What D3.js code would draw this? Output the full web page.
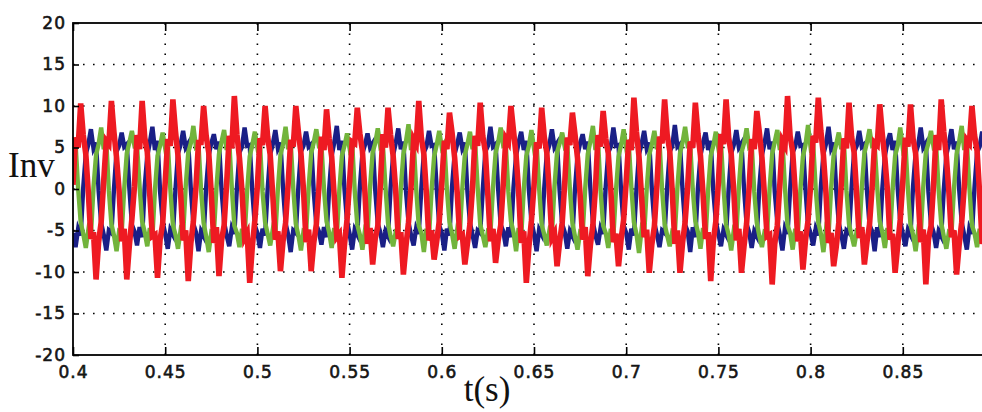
<!DOCTYPE html>
<html><head><meta charset="utf-8">
<script src="https://cdn.jsdelivr.net/npm/d3@7"></script>
<style>html,body{margin:0;padding:0;background:#fff;}svg{display:block;}</style>
</head><body>
<svg id="chart" width="982" height="412"></svg>
<script>
// ---- axis ticks ----
const xTicks = [0.4, 0.45, 0.5, 0.55, 0.6, 0.65, 0.7, 0.75, 0.8, 0.85];
const xTickLabels = ["0.4", "0.45", "0.5", "0.55", "0.6", "0.65", "0.7", "0.75", "0.8", "0.85"];
const yTicks = [-20, -15, -10, -5, 0, 5, 10, 15, 20];
const yTickLabels = ["-20", "-15", "-10", "-5", "0", "5", "10", "15", "20"];
const xDomain = [0.4, 0.9];
const yDomain = [-20, 20];
const xTitle = "t(s)";
const yTitle = "Inv";

// ---- sampled waveforms (12 samples per 60 Hz cycle, starting at t = 0.4 s) ----
const tStart = 0.4;
const sampleStep = 1 / 720;

const phaseRed = [
  0.5, 6.2, 5, 10.3, 6.5, 4.2, -0.5, -6, -5.2, -10.9, -6.4, -4,
  1, 5.8, 5.4, 10.6, 6.8, 3.8, -0.2, -6.3, -4.8, -10.9, -6.8, -3.6,
  0.3, 6.5, 4.8, 10.6, 6.2, 4.5, -0.8, -5.7, -5.5, -10.7, -6.1, -4.2,
  0.8, 6, 5.2, 10.8, 7, 4, -0.4, -6.2, -5, -11.1, -6.6, -3.9,
  0.2, 5.6, 5.6, 10, 6.4, 4.4, -0.6, -6.5, -4.6, -10.5, -6.2, -4.4,
  0.7, 6.4, 4.9, 11.2, 6.6, 3.7, -0.3, -5.9, -5.3, -11.3, -7, -3.8,
  0.4, 6.1, 5.3, 10, 6.3, 4.1, -0.7, -6.1, -5.1, -9.9, -6.3, -4.1,
  0.6, 5.9, 5.1, 10, 6.9, 4.3, -0.1, -6.4, -4.9, -9.9, -6.5, -4.3,
  0.1, 6.3, 4.7, 9.6, 6.1, 3.9, -0.9, -5.8, -5.4, -10.7, -6.7, -3.7,
  0.9, 5.7, 5.5, 9.8, 6.7, 4.6, -0.5, -6.6, -4.7, -9.1, -6, -4.5,
  0.5, 6.6, 5, 9.8, 6.5, 4, -0.2, -6, -5.2, -10.3, -6.9, -4,
  0.3, 6, 5.4, 10.6, 6.2, 4.2, -0.6, -6.2, -5, -8.5, -6.3, -3.9,
  0.8, 5.8, 4.8, 9.2, 6.8, 3.8, -0.4, -5.7, -5.5, -9.1, -6.6, -4.2,
  0.2, 6.4, 5.2, 10.4, 6.4, 4.5, -0.8, -6.3, -4.8, -8.9, -6.2, -4.4,
  0.6, 6.1, 5.6, 10, 7, 4.1, -0.3, -6.5, -5.1, -11.3, -7, -3.8,
  0.4, 5.6, 4.9, 9.8, 6.3, 4.4, -0.5, -5.9, -5.3, -9.3, -6.4, -4.1,
  0.7, 6.2, 5.3, 9.2, 6.6, 3.7, -0.7, -6.1, -4.6, -10.5, -6.8, -4.3,
  0.1, 6.5, 5.1, 9.4, 6.1, 4.3, -0.1, -6.4, -5.4, -9.3, -6.1, -3.7,
  0.9, 5.9, 4.7, 11, 6.9, 3.9, -0.9, -5.8, -4.9, -10.1, -6.7, -4.5,
  0.5, 6.3, 5.5, 10.8, 6.5, 4.6, -0.4, -6.6, -5, -10.1, -6.5, -4,
  0.3, 5.7, 5, 10.4, 6.7, 4, -0.6, -6, -5.2, -11.1, -6.3, -3.9,
  0.8, 6.6, 5.4, 10.8, 6.2, 4.2, -0.2, -6.2, -4.8, -10.1, -6.9, -4.2,
  0.2, 6, 4.8, 9.4, 6.8, 3.8, -0.8, -5.7, -5.5, -11.5, -6.6, -4.4,
  0.6, 5.8, 5.2, 11.2, 6.4, 4.5, -0.3, -6.3, -5.1, -9.7, -6.2, -3.8,
  0.4, 6.4, 5.6, 11, 7, 4.1, -0.5, -6.5, -5.3, -9.3, -7, -4.1,
  0.7, 6.1, 4.9, 10.4, 6.3, 4.4, -0.7, -5.9, -4.6, -9.1, -6.4, -4.3,
  0.1, 5.6, 5.3, 10.2, 6.6, 3.7, -0.1, -6.1, -5.4, -10.1, -6.8, -3.7,
  0.9, 6.2, 5.1, 10.2, 6.1, 4.3, -0.9, -6.4, -4.9, -11.5, -6.1, -4.5,
  0.5, 6.5, 4.7, 10.8, 6.9, 3.9, -0.4, -5.8, -5, -10.3, -6.7, -4,
  0.3, 5.9, 5.5, 10, 6.5, 4.6, -0.6, -6.6, -5.2, -10.5, -6.5, -3.9
];

const phaseBlue = [
  -5.3, -7, -4.8, -5.6, 0.2, 4.2, 5.4, 7.2, 4.9, 5.6, -0.2, -4.1,
  -5.5, -7.4, -5, -5.3, 0, 4.5, 5.2, 6.8, 5.1, 5.4, 0.1, -4.3,
  -5.1, -6.8, -4.6, -5.8, 0.3, 4, 5.6, 7.5, 4.7, 5.8, -0.3, -3.9,
  -5.4, -7.2, -4.9, -5.5, -0.1, 4.3, 5.3, 7, 5, 5.5, 0, -4.2,
  -5.2, -7.5, -5.1, -5.7, 0.2, 4.1, 5.5, 6.6, 4.8, 5.7, -0.1, -4,
  -5.6, -6.9, -4.7, -5.4, 0.1, 4.4, 5.1, 7.4, 5.2, 5.3, -0.2, -4.4,
  -5.3, -7.1, -4.8, -5.6, 0, 4.2, 5.4, 7.1, 4.9, 5.6, 0.1, -4.1,
  -5.5, -7.6, -5, -5.3, 0.3, 4.5, 5.2, 6.9, 5.1, 5.4, -0.3, -4.3,
  -5.1, -6.7, -4.6, -5.8, -0.1, 4, 5.6, 7.6, 4.7, 5.8, 0, -3.9,
  -5.4, -7.3, -4.9, -5.5, 0.2, 4.3, 5.3, 6.7, 5, 5.5, -0.1, -4.2,
  -5.2, -7, -5.1, -5.7, 0.1, 4.1, 5.5, 7.3, 4.8, 5.7, -0.2, -4,
  -5.6, -6.8, -4.7, -5.4, 0, 4.4, 5.1, 7, 5.2, 5.3, 0.1, -4.4,
  -5.3, -7.4, -4.8, -5.6, 0.3, 4.2, 5.4, 6.8, 4.9, 5.6, -0.3, -4.1,
  -5.5, -7.1, -5, -5.3, -0.1, 4.5, 5.2, 7.5, 5.1, 5.4, 0, -4.3,
  -5.1, -6.9, -4.6, -5.8, 0.2, 4, 5.6, 6.9, 4.7, 5.8, -0.1, -3.9,
  -5.4, -7.5, -4.9, -5.5, 0.1, 4.3, 5.3, 7.2, 5, 5.5, -0.2, -4.2,
  -5.2, -7.2, -5.1, -5.7, 0, 4.1, 5.5, 6.6, 4.8, 5.7, 0.1, -4,
  -5.6, -6.7, -4.7, -5.4, 0.3, 4.4, 5.1, 7.4, 5.2, 5.3, -0.3, -4.4,
  -5.3, -7.3, -4.8, -5.6, -0.1, 4.2, 5.4, 7, 4.9, 5.6, 0, -4.1,
  -5.5, -7, -5, -5.3, 0.2, 4.5, 5.2, 7.7, 5.1, 5.4, -0.1, -4.3,
  -5.1, -7.6, -4.6, -5.8, 0.1, 4, 5.6, 6.8, 4.7, 5.8, -0.2, -3.9,
  -5.4, -6.9, -4.9, -5.5, 0, 4.3, 5.3, 7.1, 5, 5.5, 0.1, -4.2,
  -5.2, -7.1, -5.1, -5.7, 0.3, 4.1, 5.5, 7.3, 4.8, 5.7, -0.3, -4,
  -5.6, -7.4, -4.7, -5.4, -0.1, 4.4, 5.1, 6.9, 5.2, 5.3, 0, -4.4,
  -5.3, -6.8, -4.8, -5.6, 0.2, 4.2, 5.4, 7.5, 4.9, 5.6, -0.1, -4.1,
  -5.5, -7.2, -5, -5.3, 0.1, 4.5, 5.2, 7, 5.1, 5.4, -0.2, -4.3,
  -5.1, -7.5, -4.6, -5.8, 0, 4, 5.6, 6.7, 4.7, 5.8, 0.1, -3.9,
  -5.4, -6.9, -4.9, -5.5, 0.3, 4.3, 5.3, 7.4, 5, 5.5, -0.3, -4.2,
  -5.2, -7.1, -5.1, -5.7, -0.1, 4.1, 5.5, 7.2, 4.8, 5.7, 0, -4,
  -5.6, -7.3, -4.7, -5.4, 0.2, 4.4, 5.1, 6.9, 5.2, 5.3, -0.1, -4.4
];

const phaseGreen = [
  5, 5.5, 0.1, -4, -5.4, -7.1, -4.9, -5.6, 0.2, 4.1, 5.4, 7.4,
  4.8, 5.7, -0.2, -4.2, -5.6, -7.5, -5.1, -5.3, 0, 4.3, 5.6, 7,
  5.2, 5.3, 0.3, -3.9, -5.2, -6.9, -4.7, -5.8, -0.1, 4, 5.2, 6.8,
  4.9, 5.6, 0, -4.3, -5.5, -7.2, -5, -5.5, 0.3, 4.4, 5.5, 7.6,
  5.1, 5.4, -0.1, -4.1, -5.7, -7.6, -5.2, -5.4, 0.1, 4.2, 5.7, 7.1,
  4.7, 5.8, 0.2, -4.4, -5.3, -7, -4.8, -5.7, -0.2, 3.9, 5.3, 6.9,
  5, 5.5, -0.3, -4, -5.4, -6.8, -4.9, -5.6, 0, 4.1, 5.4, 7.5,
  4.8, 5.7, 0.1, -4.2, -5.6, -7.4, -5.1, -5.3, 0.2, 4.3, 5.6, 7.2,
  5.2, 5.3, 0, -3.9, -5.2, -7.1, -4.7, -5.8, -0.1, 4, 5.2, 6.7,
  4.9, 5.6, -0.2, -4.3, -5.5, -7.3, -5, -5.5, 0.3, 4.4, 5.5, 7.3,
  5.1, 5.4, 0.3, -4.1, -5.7, -6.9, -5.2, -5.4, 0.1, 4.2, 5.7, 7.8,
  4.7, 5.8, 0, -4.4, -5.3, -7.6, -4.8, -5.7, -0.2, 3.9, 5.3, 7,
  5, 5.5, -0.1, -4, -5.4, -7.2, -4.9, -5.6, 0, 4.1, 5.4, 6.9,
  4.8, 5.7, 0.2, -4.2, -5.6, -7, -5.1, -5.3, 0.2, 4.3, 5.6, 7.4,
  5.2, 5.3, -0.3, -3.9, -5.2, -7.5, -4.7, -5.8, -0.1, 4, 5.2, 7.1,
  4.9, 5.6, 0.1, -4.3, -5.5, -6.8, -5, -5.5, 0.3, 4.4, 5.5, 6.8,
  5.1, 5.4, 0, -4.1, -5.7, -7.3, -5.2, -5.4, 0.1, 4.2, 5.7, 7.6,
  4.7, 5.8, -0.2, -4.4, -5.3, -7.1, -4.8, -5.7, -0.2, 3.9, 5.3, 7.2,
  5, 5.5, 0.3, -4, -5.4, -7.7, -4.9, -5.6, 0, 4.1, 5.4, 7,
  4.8, 5.7, 0, -4.2, -5.6, -6.9, -5.1, -5.3, 0.2, 4.3, 5.6, 7.5,
  5.2, 5.3, -0.1, -3.9, -5.2, -7.2, -4.7, -5.8, -0.1, 4, 5.2, 6.9,
  4.9, 5.6, 0.2, -4.3, -5.5, -7.4, -5, -5.5, 0.3, 4.4, 5.5, 7.3,
  5.1, 5.4, -0.3, -4.1, -5.7, -7, -5.2, -5.4, 0.1, 4.2, 5.7, 7.1,
  4.7, 5.8, 0.1, -4.4, -5.3, -7.3, -4.8, -5.7, -0.2, 3.9, 5.3, 7.7,
  5, 5.5, 0, -4, -5.4, -7.6, -4.9, -5.6, 0, 4.1, 5.4, 6.8,
  4.8, 5.7, -0.2, -4.2, -5.6, -6.9, -5.1, -5.3, 0.2, 4.3, 5.6, 7.2,
  5.2, 5.3, 0.3, -3.9, -5.2, -7.1, -4.7, -5.8, -0.1, 4, 5.2, 7.4,
  4.9, 5.6, 0, -4.3, -5.5, -7.5, -5, -5.5, 0.3, 4.4, 5.5, 7,
  5.1, 5.4, -0.1, -4.1, -5.7, -7.2, -5.2, -5.4, 0.1, 4.2, 5.7, 7.6,
  4.7, 5.8, 0.2, -4.4, -5.3, -7, -4.8, -5.7, -0.2, 3.9, 5.3, 7.1
];

const seriesNames = ["phaseBlue", "phaseGreen", "phaseRed"];
const seriesColors = ["#1a1f86", "#72b43c", "#ee1a22"];
const seriesWidths = [4.4, 4.4, 5.6];

// ---- layout ----
const W = 982, H = 412;
const plot = { left: 73, top: 23, right: 995, bottom: 355 };

const svg = d3.select("#chart");
svg.append("rect").attr("width", W).attr("height", H).attr("fill", "#fff");

const x = d3.scaleLinear().domain(xDomain).range([plot.left, plot.right]);
const y = d3.scaleLinear().domain(yDomain).range([plot.bottom, plot.top]);

svg.append("clipPath").attr("id", "clip")
  .append("rect").attr("x", plot.left).attr("y", plot.top)
  .attr("width", plot.right - plot.left).attr("height", plot.bottom - plot.top);

// grid
const grid = svg.append("g").attr("stroke", "#000").attr("stroke-width", 1.6)
  .attr("stroke-dasharray", "1.6,8.4");
grid.selectAll("line.vx").data(xTicks.filter(t => t !== xDomain[0])).enter().append("line")
  .attr("x1", d => x(d)).attr("x2", d => x(d)).attr("y1", plot.bottom).attr("y2", plot.top);
grid.selectAll("line.hy").data(yTicks.filter(t => t !== yDomain[0] && t !== yDomain[1])).enter().append("line")
  .attr("x1", plot.left).attr("x2", plot.right).attr("y1", d => y(d)).attr("y2", d => y(d));

// waveforms
const seriesData = { phaseRed, phaseBlue, phaseGreen };
const line = d3.line()
  .x((d, i) => x(tStart + i * sampleStep))
  .y(d => y(d))
  .curve(d3.curveLinear);
const wave = svg.append("g").attr("clip-path", "url(#clip)");
seriesNames.forEach((name, i) => {
  wave.append("path").datum(seriesData[name])
    .attr("fill", "none").attr("stroke", seriesColors[i])
    .attr("stroke-width", seriesWidths[i]).attr("stroke-linejoin", "miter")
    .attr("stroke-miterlimit", 4)
    .attr("d", line);
});

// axes
function styleAxis(g) {
  g.select(".domain").remove();
  g.selectAll(".tick line").attr("stroke", "#000").attr("stroke-width", 1.6);
  g.selectAll(".tick text").attr("fill", "#151515")
    .attr("stroke", "#151515").attr("stroke-width", 0.6)
    .attr("font-family", "DejaVu Sans").attr("font-size", "17px")
    .attr("letter-spacing", "1px");
}
const xAxis = d3.axisBottom(x).tickValues(xTicks)
  .tickFormat((d, i) => xTickLabels[i]).tickSizeInner(-8).tickSizeOuter(0).tickPadding(11);
svg.append("g").attr("transform", `translate(0,${plot.bottom})`).call(xAxis).call(styleAxis);

const xAxisTop = d3.axisTop(x).tickValues(xTicks).tickFormat("").tickSizeInner(-8).tickSizeOuter(0);
svg.append("g").attr("transform", `translate(0,${plot.top})`).call(xAxisTop).call(styleAxis);

const yAxis = d3.axisLeft(y).tickValues(yTicks)
  .tickFormat((d, i) => yTickLabels[i]).tickSizeInner(-6).tickSizeOuter(0).tickPadding(7);
svg.append("g").attr("transform", `translate(${plot.left},0)`).call(yAxis).call(styleAxis);

// frame
svg.append("rect").attr("x", plot.left).attr("y", plot.top)
  .attr("width", plot.right - plot.left).attr("height", plot.bottom - plot.top)
  .attr("fill", "none").attr("stroke", "#000").attr("stroke-width", 1.8);

// titles
svg.append("text").attr("x", 8).attr("y", 177)
  .attr("font-family", "Liberation Serif").attr("font-size", "35px").attr("fill", "#111")
  .text(yTitle);
svg.append("text").attr("x", 487).attr("y", 401).attr("text-anchor", "middle")
  .attr("font-family", "Liberation Serif").attr("font-size", "35px").attr("fill", "#111")
  .text(xTitle);
</script>
</body></html>
